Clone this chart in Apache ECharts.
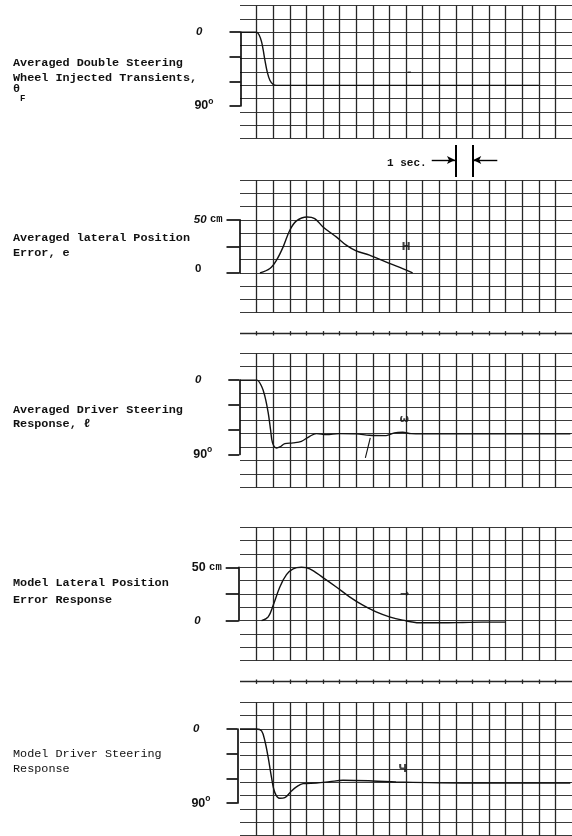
<!DOCTYPE html>
<html>
<head>
<meta charset="utf-8">
<script src="https://cdn.jsdelivr.net/npm/echarts@6/dist/echarts.min.js"></script>
<style>
  html, body { margin: 0; padding: 0; background: #fff; }
  #chart { width: 572px; height: 836px; }
</style>
</head>
<body>
<div id="chart"></div>
<script>
// time axis: seconds from the first vertical grid line (1 division = 1 sec)
const injectTime = [-1, 0, 0.16, 0.3, 0.4, 0.5, 0.64, 0.8, 1.0, 1.2, 2.0, 17];
const injectDeg  = [0, 0, 3.7, 11.8, 22, 34.2, 48.5, 58.6, 63.9, 65, 65, 65];

const errorTime = [0.2, 0.8, 1.2, 1.6, 2.0, 2.4, 3.04, 3.5, 4.0, 4.8, 5.4, 6.0, 6.8, 8.0, 8.8, 9.4];
const errorCm   = [0, 4.1, 12, 24.5, 40.2, 49, 52.7, 51.2, 43.3, 33.9, 26.1, 20.7, 16.7, 8.9, 4.1, 0];

const steerTime = [-1, 0, 0.3, 0.5, 0.7, 0.84, 0.96, 1.2, 1.4, 1.7, 2.2, 2.7, 3.2, 3.6, 4.2, 5.0, 6.0, 6.8, 7.8, 8.3, 8.8, 9.3, 10, 18.9];
const steerDeg  = [0, 0, 7.5, 19.6, 39.7, 59.8, 75.9, 82, 80.8, 76.8, 75.9, 74, 67.9, 64.7, 65.9, 64.7, 65, 66.7, 67.1, 63.8, 63.1, 64.7, 65, 65];

// stray pen stroke under the averaged steering trace
const penMarkTime = [6.85, 6.55];
const penMarkDeg  = [69.9, 94];

const modelErrTime = [0.3, 0.7, 1.0, 1.4, 1.8, 2.2, 2.7, 3.2, 4.0, 4.8, 5.6, 6.4, 7.2, 8.0, 8.8, 9.8, 11.2, 12.4, 13.6, 15.0];
const modelErrCm   = [0, 3.6, 14.5, 31.6, 43.1, 48.6, 50, 48.6, 40.4, 31.6, 22.3, 14.5, 8.2, 3.6, 0.5, -2, -2, -1.7, -1.4, -1.4];

const modelSteerTime = [-1, 0, 0.3, 0.5, 0.7, 0.9, 1.1, 1.4, 1.7, 2.1, 2.4, 2.8, 3.6, 4.4, 5.2, 7.0, 8.4, 10.4, 12.4, 18.9];
const modelSteerDeg  = [0, 0, 2.4, 14.6, 34.8, 59.1, 77.3, 84.2, 83.4, 75.3, 70.3, 66.3, 65.6, 64, 62.3, 63.1, 64.3, 65.2, 65.6, 65.6];

// event marks drawn on each strip
const eventTime  = [9.2, 9.0, 8.9, 8.9, 8.8];
const eventValue = [49, 24.5, 47.8, 24.8, 48.6];
const eventGlyph = ['-', 'H', 'ω', '→', 'Ч'];

const degTicks = [0, 30, 60, 90];
const cmTicks  = [0, 25, 50];

// 1 sec calibration marks
const secStart = 12;
const secSpan = 1;

const DEG_DIV = 16.2;   // degrees per grid division
const CM_DIV = 12.5;    // cm per grid division
const X_MIN = -1, X_MAX = 19;
const GRID_LEFT = 240, GRID_W = 333.33;
const INK = '#111';

const panels = [
  { top: 5.7,   cell: 13.26, kind: 'deg', bx: 240.5, t: injectTime,     v: injectDeg },
  { top: 180,   cell: 13.27, kind: 'cm',  bx: 239.5, t: errorTime,      v: errorCm, zeroItalic: false, fiftyItalic: true },
  { top: 353.3, cell: 13.4,  kind: 'deg', bx: 239.3, t: steerTime,      v: steerDeg },
  { top: 527.3, cell: 13.34, kind: 'cm',  bx: 238.7, t: modelErrTime,   v: modelErrCm, zeroItalic: true, fiftyItalic: false },
  { top: 702.3, cell: 13.34, kind: 'deg', bx: 237.5, t: modelSteerTime, v: modelSteerDeg }
];

const grid = [], xAxis = [], yAxis = [], series = [];

function timeAxis(gi) {
  return {
    gridIndex: gi, type: 'value', min: X_MIN, max: X_MAX, interval: 1,
    axisLine: { show: false }, axisTick: { show: false }, axisLabel: { show: false },
    splitLine: { show: true, showMinLine: false, showMaxLine: false,
      lineStyle: { color: '#262626', width: 1.3 } }
  };
}

function plainY(gi, extra) {
  return Object.assign({
    gridIndex: gi, type: 'value',
    axisLine: { show: false }, axisTick: { show: false }, axisLabel: { show: false },
    splitLine: { show: false }
  }, extra);
}

const numFont = 'Liberation Sans';

panels.forEach((p, i) => {
  const deg = p.kind === 'deg';
  const div = deg ? DEG_DIV : CM_DIV;
  const gi = grid.length;
  grid.push({ left: GRID_LEFT, width: GRID_W, top: p.top, height: 10 * p.cell });
  xAxis.push(timeAxis(gi));
  yAxis.push(plainY(gi, {
    inverse: deg,
    min: deg ? -2 * div : -3 * div,
    max: deg ? 8 * div : 7 * div,
    interval: div,
    splitLine: { show: true, lineStyle: { color: '#3a3a3a', width: 1.2 } }
  }));

  series.push({
    type: 'line', xAxisIndex: gi, yAxisIndex: gi,
    data: p.t.map((t, k) => [t, p.v[k]]),
    showSymbol: false, smooth: 0.35, silent: true,
    lineStyle: { color: INK, width: 1.4 }
  });
  series.push({
    type: 'scatter', xAxisIndex: gi, yAxisIndex: gi,
    data: [[eventTime[i], eventValue[i]]],
    symbolSize: 2, itemStyle: { color: 'rgba(0,0,0,0)' }, silent: true,
    label: { show: true, position: 'inside', formatter: eventGlyph[i],
      color: INK, fontSize: 11, fontWeight: 'bold', fontFamily: 'DejaVu Sans' }
  });
  if (i === 2) {
    series.push({
      type: 'line', xAxisIndex: gi, yAxisIndex: gi,
      data: penMarkTime.map((t, k) => [t, penMarkDeg[k]]),
      showSymbol: false, silent: true, lineStyle: { color: INK, width: 1.1 }
    });
  }

  // calibration bracket on the left of each strip
  const ticks = deg ? degTicks : cmTicks;
  const full = ticks[ticks.length - 1];
  const zeroPx = deg ? p.top + 2 * p.cell : p.top + 7 * p.cell;
  const spanPx = full / div * p.cell;
  const bi = grid.length;
  grid.push({ left: p.bx, width: 10, top: deg ? zeroPx : zeroPx - spanPx, height: spanPx });
  xAxis.push({ gridIndex: bi, type: 'value', min: 0, max: 1, show: false });
  yAxis.push({
    gridIndex: bi, type: 'value', position: 'left', inverse: deg,
    min: 0, max: full, interval: ticks[1],
    axisLine: { show: true, onZero: false, lineStyle: { color: '#000', width: 1.6 } },
    axisTick: { show: true, inside: false, length: deg ? 11 : 13, lineStyle: { color: '#000', width: 1.6 } },
    splitLine: { show: false },
    axisLabel: {
      show: true, margin: deg ? 27 : 17, showMinLabel: true, showMaxLabel: true,
      formatter: v => {
        if (v === 0) return '{z|0}';
        if (v === full) return deg ? '{n|90}{s|o}' : (p.fiftyItalic ? '{ni|50}' : '{n|50}') + ' {c|cm}';
        return '';
      },
      rich: {
        z: { fontFamily: numFont, fontSize: 11.5, fontWeight: 'bold', color: INK,
             fontStyle: (deg || p.zeroItalic) ? 'italic' : 'normal',
             padding: [0, deg ? 11 : 21, deg || p.zeroItalic ? 0 : 8, 0] },
        n: { fontFamily: numFont, fontSize: 12.5, fontWeight: 'bold', color: INK },
        ni: { fontFamily: numFont, fontSize: 11.5, fontWeight: 'bold', fontStyle: 'italic', color: INK },
        s: { fontFamily: numFont, fontSize: 8.5, fontWeight: 'bold', color: INK, verticalAlign: 'top', padding: [0, 0, 9, 0] },
        c: { fontFamily: 'Liberation Mono', fontSize: 10.5, fontWeight: 'bold', color: INK }
      }
    }
  });
});

// timing tick rows between strips
[333.3, 681.7].forEach(y => {
  const gi = grid.length;
  grid.push({ left: GRID_LEFT, width: GRID_W, top: y - 2.2, height: 4.4 });
  xAxis.push(timeAxis(gi));
  yAxis.push(plainY(gi, {
    min: 0, max: 2, interval: 1,
    splitLine: { show: true, showMinLine: false, showMaxLine: false,
      lineStyle: { color: '#262626', width: 1.3 } }
  }));
});

// "1 sec." calibration
const si = grid.length;
grid.push({ left: GRID_LEFT, width: GRID_W, top: 145, height: 32 });
xAxis.push({ gridIndex: si, type: 'value', min: X_MIN, max: X_MAX, show: false });
yAxis.push({ gridIndex: si, type: 'value', min: 0, max: 1, show: false });
series.push({
  type: 'line', xAxisIndex: si, yAxisIndex: si, data: [], silent: true,
  markLine: {
    silent: true, symbol: ['none', 'none'], label: { show: false },
    lineStyle: { color: '#000', width: 2, type: 'solid' },
    data: [{ xAxis: secStart }, { xAxis: secStart + secSpan }]
  }
});
series.push({
  type: 'line', xAxisIndex: si, yAxisIndex: si, data: [], silent: true,
  markLine: {
    silent: true, symbol: ['none', 'arrow'], symbolSize: [6, 8], label: { show: false },
    lineStyle: { color: '#000', width: 1.4, type: 'solid' },
    data: [
      [{ coord: [secStart - 1.45, 0.53] }, { coord: [secStart - 0.05, 0.53] }],
      [{ coord: [secStart + secSpan + 1.5, 0.53] }, { coord: [secStart + secSpan + 0.05, 0.53] }]
    ]
  }
});

const titleFont = { fontFamily: 'Liberation Mono', fontSize: 11.8, fontWeight: 'bold', fill: INK };
const titleLines = [
  { text: 'Averaged Double Steering', y: 63 },
  { text: 'Wheel Injected Transients,', y: 78 },
  { text: 'θ', y: 89.5 },
  { text: 'Averaged lateral Position', y: 238.3 },
  { text: 'Error, e', y: 253.3 },
  { text: 'Averaged Driver Steering', y: 410 },
  { text: 'Response, ℓ', y: 424 },
  { text: 'Model Lateral Position', y: 583.3 },
  { text: 'Error Response', y: 600 },
  { text: 'Model Driver Steering', y: 754.3, weight: 'normal' },
  { text: 'Response', y: 768.7, weight: 'normal' }
];
const graphic = titleLines.map(l => ({
  type: 'text', silent: true,
  style: Object.assign({}, titleFont, { text: l.text, x: 13, y: l.y, verticalAlign: 'middle',
    fontWeight: l.weight || 'bold' })
}));
graphic.push({
  type: 'text', silent: true,
  style: Object.assign({}, titleFont, { text: 'F', x: 20, y: 99, fontSize: 9, verticalAlign: 'middle' })
});
graphic.push({
  type: 'text', silent: true,
  style: Object.assign({}, titleFont, { text: '1 sec.', x: 387, y: 163, fontSize: 11, verticalAlign: 'middle' })
});

const chart = echarts.init(document.getElementById('chart'));
chart.setOption({
  animation: false,
  backgroundColor: '#fff',
  grid, xAxis, yAxis, series, graphic
});
</script>
</body>
</html>
